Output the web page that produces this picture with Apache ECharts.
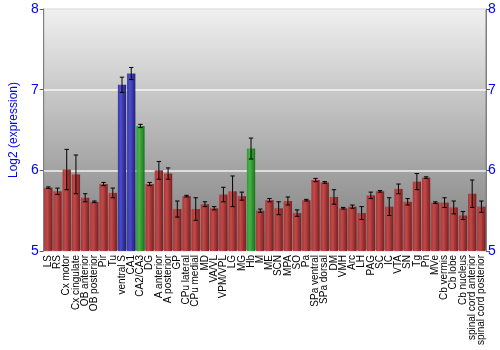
<!DOCTYPE html>
<html><head><meta charset="utf-8">
<script src="https://cdn.jsdelivr.net/npm/echarts@6/dist/echarts.min.js"></script>
<style>html,body{margin:0;padding:0;background:#fff}#c{width:500px;height:350px}</style>
</head><body><div id="c"></div>
<script>
var categories = ["LS","RS","Cx motor","Cx cingulate","OB anterior","OB posterior","Pir","Tu","ventral S","CA1","CA2/CA3","DG","A anterior","A posterior","GP","CPu lateral","CPu medial","MD","VA/VL","VPM/VPL","LG","MG","Hb","M","ME","SCN","MPA","SO","Pa","SPa ventral","SPa dorsal","DM","VMH","Arc","LH","PAG","SC","IC","VTA","SN","Tg","Pn","MVe","Cb vermis","Cb lobe","Cb nucleus","spinal cord anterior","spinal cord posterior"];
var values = [5.785,5.74,6.01,5.95,5.66,5.61,5.83,5.72,7.06,7.20,6.55,5.83,6.00,5.96,5.52,5.68,5.52,5.58,5.53,5.70,5.74,5.68,6.27,5.50,5.63,5.53,5.62,5.47,5.63,5.88,5.85,5.67,5.53,5.55,5.47,5.69,5.74,5.55,5.77,5.61,5.86,5.91,5.60,5.60,5.54,5.44,5.71,5.55];
var errors = [0.01,0.04,0.25,0.24,0.05,0.01,0.02,0.06,0.095,0.075,0.02,0.02,0.11,0.07,0.10,0.01,0.14,0.03,0.02,0.09,0.19,0.05,0.13,0.02,0.02,0.08,0.05,0.04,0.01,0.02,0.01,0.09,0.01,0.02,0.08,0.04,0.01,0.11,0.06,0.04,0.10,0.01,0.01,0.06,0.08,0.05,0.17,0.07];
var groups = ["r","r","r","r","r","r","r","r","b","b","g","r","r","r","r","r","r","r","r","r","r","r","g","r","r","r","r","r","r","r","r","r","r","r","r","r","r","r","r","r","r","r","r","r","r","r","r","r"];
var yTicks = [5,6,7,8];

function grad(c0,c1,c2){
  return new echarts.graphic.LinearGradient(0,0,1,0,[{offset:0,color:c0},{offset:0.35,color:c1},{offset:1,color:c2}]);
}
var fills = {
  r: grad('#ac3232','#c44646','#7a1818'),
  b: grad('#3030aa','#4848cc','#181878'),
  g: grad('#2a9a2a','#42b442','#157015')
};
var barData = values.map(function(v,i){return {value:v,itemStyle:{color:fills[groups[i]]}};});
var errData = values.map(function(v,i){return [i, v-errors[i], v+errors[i]];});

var chart = echarts.init(document.getElementById('c'));
chart.setOption({
  animation:false,
  grid:{left:28,right:14,top:9,bottom:99,show:true,borderColor:'#808080',borderWidth:1,
    backgroundColor:new echarts.graphic.LinearGradient(0,0,0,1,[{offset:0,color:'#f0f0f0'},{offset:1,color:'#7c7c7c'}])},
  xAxis:{type:'category',data:categories,
    axisLine:{show:false},axisTick:{show:false},
    axisLabel:{interval:0,rotate:90,fontSize:10,color:'#000',margin:4,fontFamily:'Liberation Sans, Arial, sans-serif'}},
  yAxis:[
    {type:'value',min:5,max:8,interval:1,position:'left',
     name:'Log2 (expression)',nameLocation:'middle',nameGap:17,
     nameTextStyle:{color:'#0000ff',fontSize:12,fontFamily:'Liberation Sans, Arial, sans-serif'},
     axisLine:{show:true,lineStyle:{color:'#808080'}},
     axisTick:{show:true,length:4,lineStyle:{color:'#606060'}},
     axisLabel:{color:'#0000ff',fontSize:14,margin:5,fontFamily:'Liberation Sans, Arial, sans-serif'},
     splitLine:{show:true,lineStyle:{color:'rgba(255,255,255,0.85)',width:1.5}}},
    {type:'value',min:5,max:8,interval:1,position:'right',
     axisLine:{show:true,lineStyle:{color:'#808080'}},
     axisTick:{show:true,length:4,lineStyle:{color:'#606060'}},
     axisLabel:{color:'#0000ff',fontSize:14,margin:2,fontFamily:'Liberation Sans, Arial, sans-serif'},
     splitLine:{show:false}}
  ],
  series:[
    {type:'bar',data:barData,barCategoryGap:'10%',itemStyle:{opacity:0.95}},
    {type:'custom',data:errData,z:5,
     renderItem:function(params,api){
       var x=api.value(0);
       var lo=api.coord([x,api.value(1)]);
       var hi=api.coord([x,api.value(2)]);
       var w=2.2;
       var st={stroke:'#000',lineWidth:1};
       return {type:'group',children:[
         {type:'line',shape:{x1:lo[0],y1:lo[1],x2:hi[0],y2:hi[1]},style:st},
         {type:'line',shape:{x1:lo[0]-w,y1:lo[1],x2:lo[0]+w,y2:lo[1]},style:st},
         {type:'line',shape:{x1:hi[0]-w,y1:hi[1],x2:hi[0]+w,y2:hi[1]},style:st}
       ]};
     }}
  ]
});
</script></body></html>
